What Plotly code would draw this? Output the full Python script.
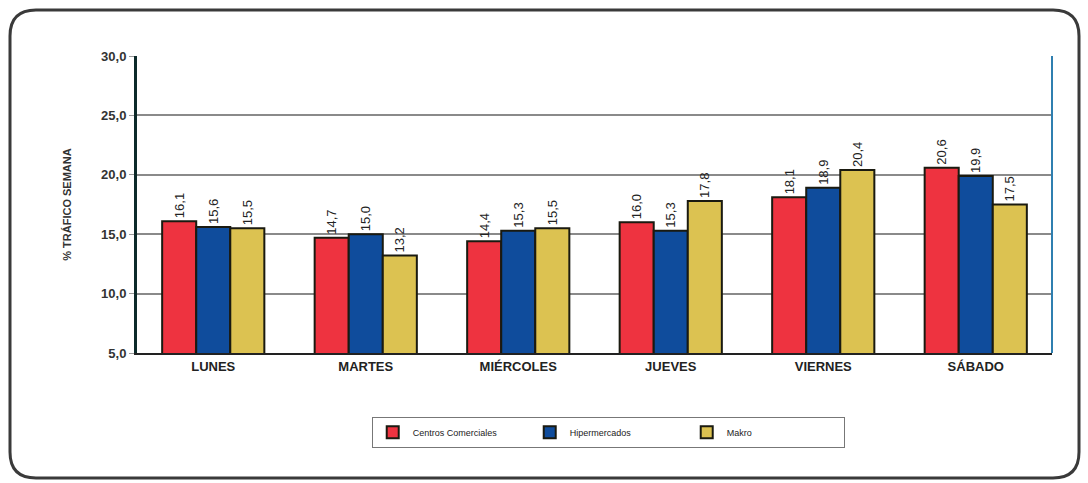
import plotly.graph_objects as go

# Weekly traffic share by day and type of retail centre
dias = ["LUNES", "MARTES", "MIÉRCOLES", "JUEVES", "VIERNES", "SÁBADO"]
centros_comerciales = [16.1, 14.7, 14.4, 16.0, 18.1, 20.6]
hipermercados = [15.6, 15.0, 15.3, 15.3, 18.9, 19.9]
makro = [15.5, 13.2, 15.5, 17.8, 20.4, 17.5]

series = [
    ("Centros Comerciales", centros_comerciales, "#EE3340"),
    ("Hipermercados", hipermercados, "#0F4C9C"),
    ("Makro", makro, "#DCC251"),
]

W, H = 1088, 483
ML, MR, MT, MB = 137, 36, 56, 130
PW, PH = W - ML - MR, H - MT - MB
FONT = "Liberation Sans, Arial"

fig = go.Figure()
for name, vals, color in series:
    fig.add_trace(go.Bar(
        name=name, x=dias, y=vals,
        marker=dict(color=color, line=dict(color="#1a1a10", width=2)),
        texttemplate="%{y:.1f}", textposition="outside", textangle=-90,
        textfont=dict(family=FONT, size=13, color="#222"),
        cliponaxis=False,
    ))


def px(x):
    return (x - ML) / PW


def py(y):
    return (H - MB - y) / PH


# Rounded frame around the whole chart
x0, x1, y0, y1, r = 10, 1079, 10, 478, 26
frame = (
    f"M {px(x0 + r)},{py(y0)} L {px(x1 - r)},{py(y0)} "
    f"Q {px(x1)},{py(y0)} {px(x1)},{py(y0 + r)} "
    f"L {px(x1)},{py(y1 - r)} Q {px(x1)},{py(y1)} {px(x1 - r)},{py(y1)} "
    f"L {px(x0 + r)},{py(y1)} Q {px(x0)},{py(y1)} {px(x0)},{py(y1 - r)} "
    f"L {px(x0)},{py(y0 + r)} Q {px(x0)},{py(y0)} {px(x0 + r)},{py(y0)} Z"
)

fig.update_layout(
    width=W, height=H,
    margin=dict(l=ML, r=MR, t=MT, b=MB),
    paper_bgcolor="white", plot_bgcolor="white",
    separators=",.",
    barmode="group", bargap=0.33, bargroupgap=0,
    font=dict(family=FONT, color="#222"),
    showlegend=True,
    legend=dict(
        orientation="h", x=0.515, xanchor="center", y=-0.215, yanchor="top",
        bordercolor="#777", borderwidth=1, bgcolor="white",
        font=dict(family=FONT, size=9, color="#222"),
        entrywidth=112, itemwidth=30,
    ),
    xaxis=dict(
        showgrid=False, showline=True, linecolor="#222", linewidth=2,
        tickfont=dict(family=FONT, size=13, color="#222", weight="bold"),
        ticks="",
    ),
    yaxis=dict(
        range=[5, 30], dtick=5, tickformat=".1f",
        showgrid=True, gridcolor="#8a8a8a", gridwidth=1.5,
        showline=True, linecolor="#0d2a2a", linewidth=3,
        ticks="outside", ticklen=5, tickcolor="#999",
        tickfont=dict(family=FONT, size=13, color="#333", weight="bold"),
        title=dict(text="% TRÁFICO SEMANA", standoff=28,
                   font=dict(family=FONT, size=11, color="#333", weight="bold")),
        zeroline=False,
    ),
    shapes=[
        dict(type="path", xref="paper", yref="paper", path=frame,
             line=dict(color="#3a3a3a", width=3), layer="below"),
        dict(type="line", xref="paper", yref="paper", x0=1, x1=1, y0=0, y1=1,
             line=dict(color="#2f7fb0", width=2)),
    ],
)

fig.write_html("out.html")
